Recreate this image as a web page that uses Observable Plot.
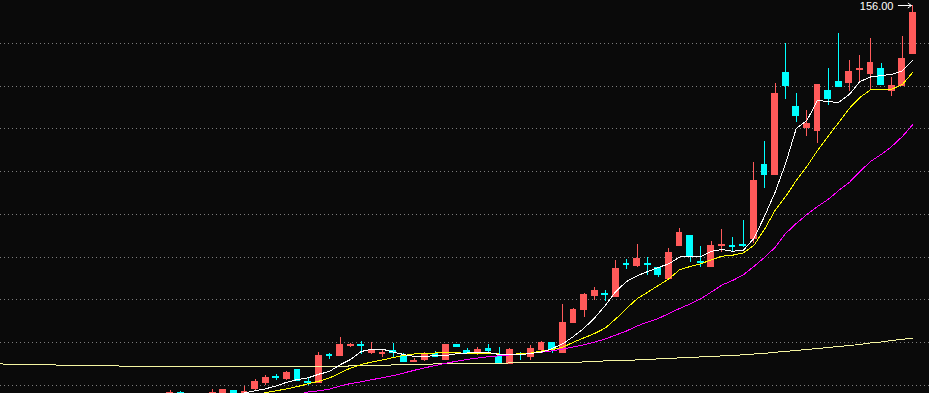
<!DOCTYPE html>
<html><head><meta charset="utf-8">
<script src="https://cdn.jsdelivr.net/npm/d3@7"></script>
<script src="https://cdn.jsdelivr.net/npm/@observablehq/plot@0.6"></script>
<style>html,body{margin:0;padding:0;background:#0a0a0a;overflow:hidden}#chart svg{display:block}</style>
</head><body><div id="chart"></div>
<script>
// ---- data (trading-day index, prices) ----
const firstDay = 16;
const open = [77.4,78.6,77.0,77.8,77.4,78.5,78.94,77.8,79.2,80.46,81.86,81.2,83.2,80.74,80.46,86.2,85.86,87.8,88.14,86.4,86.26,86.94,86.0,84.66,85.06,86.34,85.06,88.2,86.94,86.46,87.4,85.8,84.26,86.4,85.66,87.0,88.6,86.46,92.4,95.0,97.8,98.34,97.6,104.4,103.8,104.4,103.6,101.2,107.8,110.0,104.74,103.6,107.86,108.06,108.2,109.2,124.2,122.0,142.66,135.8,131.4,130.8,139.0,140.8,140.4,142.94,142.2,143.4,138.8,139.8,146.2];
const close = [78.66,77.2,77.8,77.0,78.6,79.14,77.6,78.8,80.8,81.6,81.46,82.6,80.8,80.34,86.0,85.8,88.2,88.2,87.74,87.0,86.66,86.34,84.66,85.0,86.2,85.54,88.2,87.66,86.34,87.26,86.74,84.4,87.2,86.0,87.4,88.6,87.0,92.6,95.2,98.2,99.0,97.94,103.4,104.0,105.4,104.0,102.0,106.6,110.6,105.8,104.34,108.0,108.26,107.66,107.8,121.0,122.0,138.4,139.86,133.8,132.4,140.2,137.2,139.6,142.8,143.34,144.6,140.0,140.0,145.4,154.6];
const high = [79.0,78.8,78.0,78.0,79.14,79.14,78.94,79.8,81.14,82.0,82.26,82.86,83.2,81.34,86.6,86.4,89.6,88.4,88.8,88.54,87.14,88.4,86.46,85.4,86.6,86.74,88.2,88.2,87.34,87.66,88.14,87.6,87.4,86.6,88.0,88.8,88.6,96.2,95.4,98.4,99.6,99.0,105.0,105.2,108.2,105.6,103.6,107.4,111.4,110.0,107.8,108.8,111.2,109.6,113.0,124.66,128.8,140.4,148.46,138.4,135.0,140.2,143.4,150.4,145.0,146.0,149.4,144.4,141.6,149.8,156.0];
const low = [77.0,77.0,76.6,76.6,77.0,78.2,77.4,77.6,78.8,80.0,81.0,81.0,80.8,80.0,80.46,85.2,85.86,87.54,86.2,86.2,85.66,85.66,84.66,84.66,84.74,85.54,85.06,87.66,86.2,85.94,86.6,84.14,84.26,85.0,85.06,86.8,86.46,86.46,92.4,93.6,97.0,96.8,97.6,103.2,103.6,102.0,101.6,101.2,107.8,104.6,103.66,103.6,106.6,106.6,107.6,108.46,119.46,122.0,137.2,132.6,129.8,128.4,136.0,139.6,138.8,140.4,139.2,140.0,137.8,139.8,146.2];

const ma5Start = 22;
const ma5 = [77.8,78.5,78.94,79.34,79.94,80.66,81.2,81.54,82.26,82.8,84.14,85.2,86.8,87.26,87.26,86.7,86.2,85.8,85.8,86.0,86.0,86.34,86.5,86.6,86.6,86.2,86.1,86.2,86.4,86.7,87.4,88.34,89.8,91.46,93.54,96.0,98.8,100.8,101.94,102.8,103.6,104.34,105.7,105.8,105.8,106.86,107.2,106.86,107.0,109.4,113.8,118.6,124.4,131.4,133.0,137.0,136.8,136.6,138.2,140.8,141.7,142.0,142.2,142.9,145.1];
const ma10Start = 23;
const ma10 = [77.4,78.0,78.6,78.94,79.34,79.8,80.34,80.86,81.5,82.5,83.5,84.2,84.7,85.1,85.6,86.0,86.3,86.46,86.5,86.54,86.54,86.44,86.34,86.34,86.3,86.24,86.34,86.5,86.9,87.2,87.66,88.66,89.54,90.4,91.5,93.34,95.4,97.34,98.66,100.0,101.34,103.14,103.8,104.34,105.14,105.86,106.06,106.5,108.0,111.2,115.0,117.8,121.0,123.8,127.0,129.8,132.6,135.4,137.6,139.14,139.2,139.26,140.2,142.66];
const ma20Start = 28;
const ma20 = [78.2,78.7,78.94,79.26,79.9,80.4,80.74,81.16,81.56,81.96,82.5,83.04,83.54,84.0,84.46,84.86,85.22,85.5,85.76,85.94,86.12,86.3,86.46,86.66,86.94,87.28,87.7,88.16,88.68,89.3,90.1,90.9,91.9,92.7,93.4,94.4,95.4,96.3,97.34,98.7,100.1,101.0,102.1,103.8,105.6,107.6,110.4,112.4,114.2,115.8,117.2,119.0,120.6,122.8,124.8,126.2,127.8,129.8,132.2];
const maLongStart = 0;
const maLong = [84.34,84.14,84.14,84.14,84.14,84.14,83.94,83.94,83.94,83.94,83.94,83.94,83.74,83.74,83.74,83.74,83.74,83.74,83.74,83.74,83.74,83.74,83.74,83.74,83.74,83.74,83.74,83.74,83.74,83.74,83.74,83.74,83.74,83.94,83.94,83.94,83.94,84.14,84.14,84.14,84.14,84.34,84.34,84.34,84.34,84.34,84.34,84.34,84.54,84.54,84.54,84.54,84.54,84.54,84.54,84.74,84.74,84.94,84.94,84.94,85.14,85.14,85.34,85.34,85.54,85.54,85.74,85.74,85.94,85.94,86.16,86.3,86.44,86.64,86.84,87.0,87.2,87.4,87.6,87.8,88.0,88.2,88.5,88.7,89.0,89.24,89.5];

const gridPrices = [148.45,139.9,131.35,122.8,114.25,105.7,97.15,88.6,80.05];
const lastHigh = [{i: 86, v: 156.0, label: "156.00"}];

// ---- build ----
const RED = "#ff5a5a", CYAN = "#00ffff";
const rows = open.map((o, k) => ({i: firstDay + k, o, c: close[k], h: high[k], l: low[k]}));
const ups = rows.filter(d => d.c >= d.o), downs = rows.filter(d => d.c < d.o);
const series = (start, vals) => vals.map((v, k) => ({i: start + k, v}));
const half = 0.32;
const crisp = {shapeRendering: "crispEdges", clip: true};

const chart = Plot.plot({
  width: 929, height: 393, margin: 0,
  style: {background: "#0a0a0a"},
  x: {domain: [0, 87.56], axis: null},
  y: {domain: [78.4, 157], axis: null},
  marks: [
    Plot.ruleY(gridPrices, {stroke: "#7c7c7c", strokeDasharray: "1,3", strokeWidth: 1, ...crisp}),
    Plot.ruleX(ups, {x: "i", y1: "l", y2: "h", stroke: RED, strokeWidth: 1, ...crisp}),
    Plot.ruleX(downs, {x: "i", y1: "l", y2: "h", stroke: CYAN, strokeWidth: 1, ...crisp}),
    Plot.rect(ups, {x1: d => d.i - half, x2: d => d.i + half, y1: "o", y2: "c", fill: RED, ...crisp}),
    Plot.rect(downs, {x1: d => d.i - half, x2: d => d.i + half, y1: "o", y2: "c", fill: CYAN, ...crisp}),
    Plot.line(series(maLongStart, maLong), {x: "i", y: "v", stroke: "#f6f6a2", strokeWidth: 1, ...crisp}),
    Plot.line(series(ma20Start, ma20), {x: "i", y: "v", stroke: "#ff00ff", strokeWidth: 1, ...crisp}),
    Plot.line(series(ma10Start, ma10), {x: "i", y: "v", stroke: "#ffff00", strokeWidth: 1, ...crisp}),
    Plot.line(series(ma5Start, ma5), {x: "i", y: "v", stroke: "#ffffff", strokeWidth: 1, ...crisp}),
    Plot.text(lastHigh, {x: "i", y: "v", text: "label", textAnchor: "end", lineAnchor: "middle", dx: -19.5, dy: 1, fill: "#ffffff", fontSize: 11, fontFamily: "Liberation Sans"}),
    Plot.arrow(lastHigh, {x1: d => d.i - 1.38, x2: "i", y1: "v", y2: "v", insetEnd: 1.5, headLength: 6, headAngle: 70, stroke: "#ffffff", strokeWidth: 1})
  ]
});
document.getElementById("chart").appendChild(chart);
</script>
</body></html>
